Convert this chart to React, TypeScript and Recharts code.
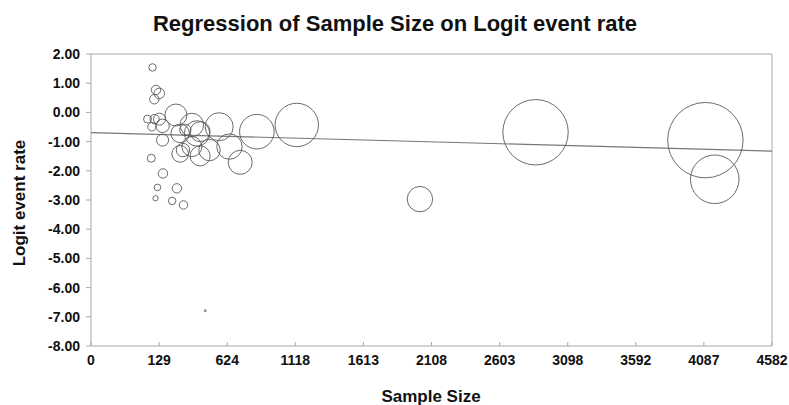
import React from 'react';
import { ScatterChart, Scatter, XAxis, YAxis, ZAxis, ReferenceLine } from 'recharts';

// sample size (x), logit event rate (y), study weight (bubble area)
const sampleSize = [
  81, 106, 130, 94, 45, 96, 132, 77, 154, 251, 154, 282, 367, 319, 404, 427, 282, 302, 367,
  427, 495, 565, 640, 718, 839, 1129, 72, 157, 117, 258, 103, 224, 306, 2024, 2864, 4098,
  4166, 464,
];
const logitRate = [
  1.54, 0.77, 0.65, 0.45, -0.23, -0.23, -0.23, -0.49, -0.46, -0.09, -0.95, -0.72, -0.43,
  -0.6, -0.72, -0.66, -1.42, -1.29, -1.17, -1.49, -1.29, -0.49, -1.17, -1.71, -0.66, -0.43,
  -1.57, -2.09, -2.57, -2.6, -2.94, -3.03, -3.17, -2.97, -0.68, -0.95, -2.29, -6.79,
];
const weight = [
  14, 22, 28, 22, 16, 22, 36, 18, 45, 121, 36, 86, 137, 32, 161, 100, 69, 45, 100, 100,
  114, 196, 161, 144, 299, 471, 16, 22, 11, 22, 7, 14, 18, 161, 1069, 1421, 590, 1,
];

const xTicks = [-366, 129, 624, 1118, 1613, 2108, 2603, 3098, 3592, 4087, 4582];
const xTickLabels = ['0', '129', '624', '1118', '1613', '2108', '2603', '3098', '3592', '4087', '4582'];
const yTicks = [-8, -7, -6, -5, -4, -3, -2, -1, 0, 1, 2];

// fitted regression line
const intercept = -0.737;
const slope = -0.000129;

const studies = sampleSize.map((x, i) => ({ x, y: logitRate[i], w: weight[i] }));
const fitLine = [xTicks[0], xTicks[xTicks.length - 1]].map((x) => ({ x, y: intercept + slope * x }));

const font = '"Liberation Sans", Arial, sans-serif';
const tickStyle = { fontSize: 14, fontWeight: 700, fill: '#111', fontFamily: font };
const maxW = Math.max(...weight);

export default function App() {
  return (
    <div style={{ position: 'absolute', left: 0, top: 0, width: 789, height: 405, background: '#fff' }}>
      <ScatterChart width={789} height={405} margin={{ top: 54, right: 17, left: 31, bottom: 0 }}>
        <XAxis
          type="number"
          dataKey="x"
          domain={[xTicks[0], xTicks[xTicks.length - 1]]}
          ticks={xTicks}
          interval={0}
          tickFormatter={(v: number, i: number) => xTickLabels[i]}
          height={59}
          stroke="#a8a8a8"
          tickSize={-4}
          tickMargin={13}
          tick={tickStyle}
        />
        <YAxis
          type="number"
          dataKey="y"
          domain={[-8, 2]}
          ticks={yTicks}
          interval={0}
          tickFormatter={(v: number) => v.toFixed(2)}
          width={60}
          stroke="#a8a8a8"
          tickSize={5}
          tickMargin={6}
          tick={tickStyle}
        />
        <ZAxis type="number" dataKey="w" domain={[0, maxW]} range={[0, maxW * Math.PI]} />
        <ReferenceLine y={2} stroke="#a8a8a8" />
        <ReferenceLine x={4582} stroke="#a8a8a8" />
        <Scatter
          data={fitLine}
          line={{ stroke: '#777', strokeWidth: 1.2 }}
          shape={() => <g />}
          isAnimationActive={false}
        />
        <Scatter
          data={studies}
          shape="circle"
          fill="none"
          stroke="#5a5a5a"
          strokeWidth={0.9}
          isAnimationActive={false}
        />
      </ScatterChart>
      <svg width={789} height={405} style={{ position: 'absolute', left: 0, top: 0, pointerEvents: 'none' }}>
        <text x={395} y={31} textAnchor="middle" fontSize={22} fontWeight={700} fontFamily={font} fill="#111">
          Regression of Sample Size on Logit event rate
        </text>
        <text
          transform="translate(25,203) rotate(-90)"
          textAnchor="middle"
          fontSize={17}
          fontWeight={700}
          fontFamily={font}
          fill="#111"
        >
          Logit event rate
        </text>
        <text x={431} y={402} textAnchor="middle" fontSize={17} fontWeight={700} fontFamily={font} fill="#111">
          Sample Size
        </text>
      </svg>
    </div>
  );
}
